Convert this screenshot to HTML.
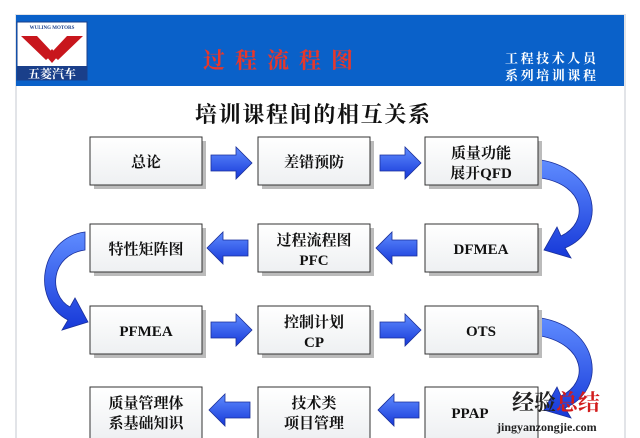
<!DOCTYPE html>
<html><head><meta charset="utf-8"><style>
html,body{margin:0;padding:0;background:#fff;}
svg{display:block;}
text{font-family:"Liberation Serif","Noto Serif CJK SC",serif;font-weight:bold;}
</style></head><body>
<svg width="640" height="438" viewBox="0 0 640 438" xmlns="http://www.w3.org/2000/svg">
<defs>
<linearGradient id="ab" x1="0" y1="0" x2="0" y2="1"><stop offset="0" stop-color="#5f8cff"/><stop offset="1" stop-color="#1638d8"/></linearGradient>
<linearGradient id="bx" x1="0" y1="0" x2="0" y2="1"><stop offset="0" stop-color="#ffffff"/><stop offset="1" stop-color="#eef0f2"/></linearGradient>
</defs>
<rect x="0" y="0" width="640" height="438" fill="#fff"/>
<rect x="16" y="15" width="609" height="425" fill="#fff" stroke="#e2e4e8" stroke-width="2"/>
<rect x="16" y="15" width="608" height="71" fill="#0a61c9"/>
<!-- logo -->
<rect x="17" y="22" width="70" height="58" fill="#fff" stroke="#1a3f8a"/>
<text x="52" y="29" font-size="5" fill="#1a3f8a" text-anchor="middle" font-family="Liberation Sans,sans-serif">WULING MOTORS</text>
<path d="M21 36 L37 36 L52 52 L67 36 L83 36 L58 60 L52 55 L46 60 Z" fill="#c8161d"/>
<path d="M46 56 L52 49 L58 56 L52 63 Z" fill="#c8161d"/>
<rect x="17" y="66" width="70" height="14" fill="#1a3f8a"/>
<text x="52" y="78" font-size="12" fill="#fff" text-anchor="middle" font-family="Liberation Sans,'Noto Sans CJK SC',sans-serif">五菱汽车</text>
<text x="203" y="68" font-size="22" fill="#e8372a" textLength="150" lengthAdjust="spacing">过程流程图</text>
<text x="505" y="63" font-size="13" fill="#fff" font-weight="normal" textLength="91" lengthAdjust="spacing">工程技术人员</text>
<text x="505" y="80" font-size="13" fill="#fff" font-weight="normal" textLength="91" lengthAdjust="spacing">系列培训课程</text>
<text x="195" y="122" font-size="22" fill="#111" textLength="235" lengthAdjust="spacing" font-family="Liberation Sans,'Noto Sans CJK SC',sans-serif">培训课程间的相互关系</text>

<!-- curved arrows -->
<g fill="url(#ab)" stroke="#1a2f9a" stroke-width="0.8">
<path d="M541 160 C600 170 608 230 565 248 L571 258 L544 250 L557 227 L561 236 C590 222 585 185 541 178 Z"/>
<path d="M85 232 C40 238 30 300 68 320 L62 330 L88 322 L75 298 L70 307 C48 295 50 255 85 250 Z"/>
<path d="M541 318 C600 328 608 390 565 408 L571 418 L544 410 L557 387 L561 396 C590 382 585 345 541 336 Z"/>
</g>
<!-- straight arrows -->
<g fill="url(#ab)" stroke="#1a2f9a" stroke-width="0.8">
<path d="M211 155 L236 155 L236 147 L252 163 L236 179 L236 171 L211 171 Z"/>
<path d="M380 155 L405 155 L405 147 L421 163 L405 179 L405 171 L380 171 Z"/>
<path d="M248 240 L223 240 L223 232 L207 248 L223 264 L223 256 L248 256 Z"/>
<path d="M417 240 L392 240 L392 232 L376 248 L392 264 L392 256 L417 256 Z"/>
<path d="M211 322 L236 322 L236 314 L252 330 L236 346 L236 338 L211 338 Z"/>
<path d="M380 322 L405 322 L405 314 L421 330 L405 346 L405 338 L380 338 Z"/>
<path d="M250 402 L225 402 L225 394 L209 410 L225 426 L225 418 L250 418 Z"/>
<path d="M419 402 L394 402 L394 394 L378 410 L394 426 L394 418 L419 418 Z"/>
</g>
<!-- boxes -->
<g stroke="#333" stroke-width="1">
<rect x="94" y="141" width="112" height="48" fill="#bbb" stroke="none"/>
<rect x="90" y="137" width="112" height="48" fill="url(#bx)"/>
<rect x="262" y="141" width="112" height="48" fill="#bbb" stroke="none"/>
<rect x="258" y="137" width="112" height="48" fill="url(#bx)"/>
<rect x="429" y="141" width="113" height="48" fill="#bbb" stroke="none"/>
<rect x="425" y="137" width="113" height="48" fill="url(#bx)"/>
<rect x="94" y="228" width="112" height="48" fill="#bbb" stroke="none"/>
<rect x="90" y="224" width="112" height="48" fill="url(#bx)"/>
<rect x="262" y="228" width="112" height="48" fill="#bbb" stroke="none"/>
<rect x="258" y="224" width="112" height="48" fill="url(#bx)"/>
<rect x="429" y="228" width="113" height="48" fill="#bbb" stroke="none"/>
<rect x="425" y="224" width="113" height="48" fill="url(#bx)"/>
<rect x="94" y="310" width="112" height="48" fill="#bbb" stroke="none"/>
<rect x="90" y="306" width="112" height="48" fill="url(#bx)"/>
<rect x="262" y="310" width="112" height="48" fill="#bbb" stroke="none"/>
<rect x="258" y="306" width="112" height="48" fill="url(#bx)"/>
<rect x="429" y="310" width="113" height="48" fill="#bbb" stroke="none"/>
<rect x="425" y="306" width="113" height="48" fill="url(#bx)"/>
<rect x="90" y="387" width="112" height="52" fill="url(#bx)"/>
<rect x="258" y="387" width="112" height="52" fill="url(#bx)"/>
<rect x="425" y="387" width="113" height="52" fill="url(#bx)"/>
</g>
<g font-size="15" fill="#111" text-anchor="middle">
<text x="146" y="167">总论</text>
<text x="314" y="167">差错预防</text>
<text x="481" y="158">质量功能</text>
<text x="481" y="178">展开QFD</text>
<text x="146" y="254">特性矩阵图</text>
<text x="314" y="245">过程流程图</text>
<text x="314" y="265">PFC</text>
<text x="481" y="254">DFMEA</text>
<text x="146" y="336">PFMEA</text>
<text x="314" y="327">控制计划</text>
<text x="314" y="347">CP</text>
<text x="481" y="336">OTS</text>
<text x="146" y="408">质量管理体</text>
<text x="146" y="428">系基础知识</text>
<text x="314" y="408">技术类</text>
<text x="314" y="428">项目管理</text>
<text x="470" y="418">PPAP</text>
</g>
<text x="512" y="410" font-size="22" fill="#222" font-family="Liberation Sans,'Noto Sans CJK SC',sans-serif">经验<tspan fill="#d21c1c">总结</tspan></text>
<text x="497" y="431" font-size="12" fill="#222" font-weight="normal" font-family="Liberation Mono,monospace">jingyanzongjie.com</text>
</svg>
</body></html>
